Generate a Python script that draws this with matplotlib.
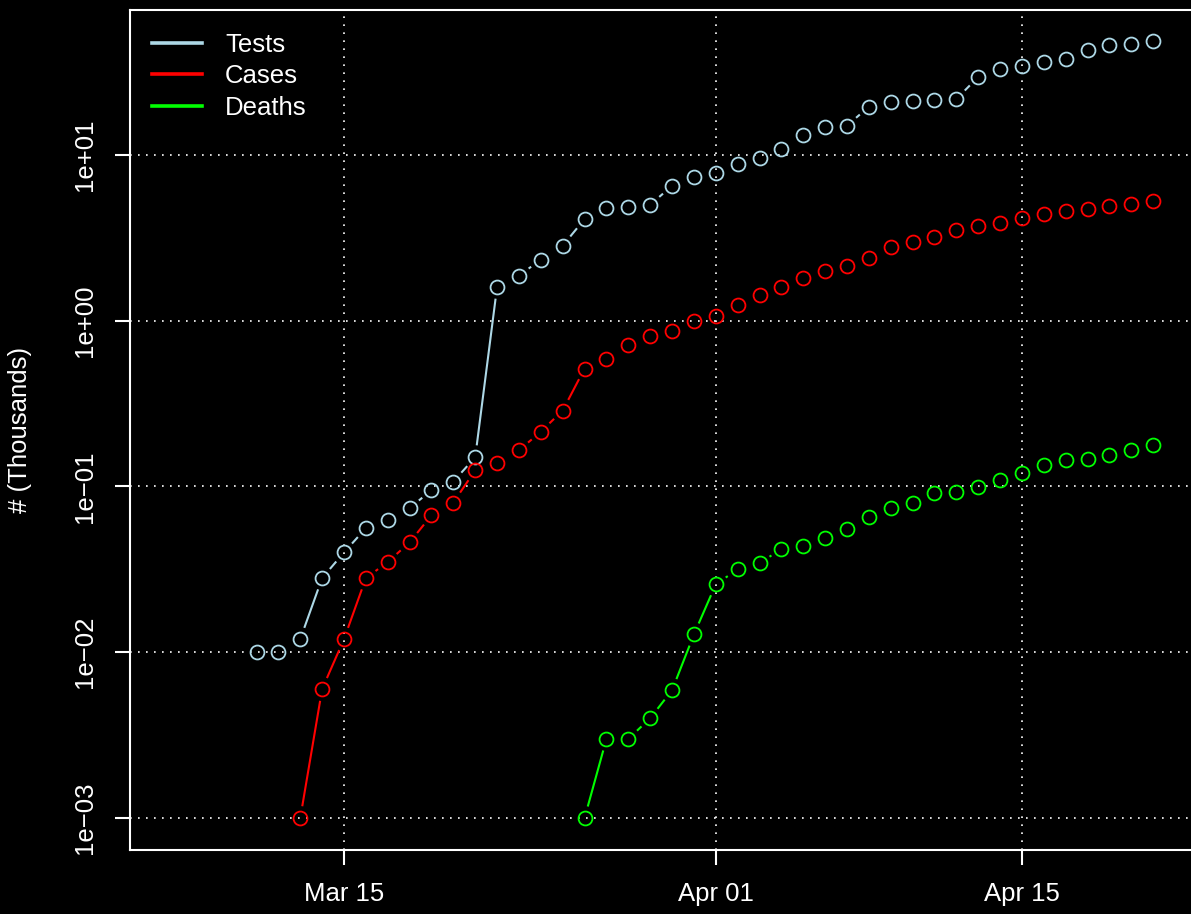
#!/usr/bin/env python3
"""
Tests / cases / deaths on a log scale, R-style type="b" plot on black
"""

import datetime as dt
import numpy as np
import matplotlib
matplotlib.use("Agg")
import matplotlib.pyplot as plt
import matplotlib.dates as mdates

# values in thousands, one per day
tests_start = dt.date(2020, 3, 11)
tests = [0.01, 0.01, 0.012, 0.028, 0.04, 0.056, 0.063, 0.074, 0.095, 0.107,
         0.15, 1.6, 1.87, 2.33, 2.83, 4.1, 4.8, 4.86, 5.0, 6.5, 7.3,
         7.8, 8.8, 9.6, 10.9, 13.2, 14.7, 15.0, 19.5, 20.9, 21.2, 21.4,
         21.7, 29.5, 33.0, 34.4, 36.3, 37.9, 42.9, 46.0, 46.3, 48.6]

cases_start = dt.date(2020, 3, 13)
cases = [0.001, 0.006, 0.012, 0.028, 0.035, 0.046, 0.067, 0.08, 0.125, 0.138,
         0.165, 0.214, 0.287, 0.514, 0.59, 0.71, 0.81, 0.87, 0.99,
         1.07, 1.25, 1.43, 1.6, 1.82, 2.0, 2.14, 2.4, 2.79, 2.99, 3.2,
         3.53, 3.73, 3.89, 4.17, 4.41, 4.6, 4.73, 4.93, 5.07, 5.28]

deaths_start = dt.date(2020, 3, 26)
deaths = [0.001, 0.003, 0.003, 0.004, 0.0059, 0.0128,
          0.0257, 0.0316, 0.0344, 0.042, 0.044, 0.049, 0.055, 0.065, 0.074,
          0.08, 0.091, 0.093, 0.099, 0.11, 0.121, 0.134, 0.144, 0.146,
          0.154, 0.167, 0.177]

series_names = ["Tests", "Cases", "Deaths"]
series_colors = ["#ADD8E6", "#FF0000", "#00FF00"]

tick_dates = [dt.date(2020, 3, 15), dt.date(2020, 4, 1), dt.date(2020, 4, 15)]
tick_labels = ["Mar 15", "Apr 01", "Apr 15"]
y_ticks = [1e-3, 1e-2, 1e-1, 1e0, 1e1]
y_labels = ["1e\u221203", "1e\u221202", "1e\u221201", "1e+00", "1e+01"]


def day_axis(start, n):
    return mdates.date2num([start + dt.timedelta(days=i) for i in range(n)])


def gapped_segments(ax, x, y, gap_px):
    """Segments between consecutive points, trimmed like R's type='b'"""
    pts = ax.transData.transform(np.column_stack([x, y]))
    inv = ax.transData.inverted()
    segs = []
    for a, b in zip(pts[:-1], pts[1:]):
        d = b - a
        L = np.hypot(*d)
        if L <= 2 * gap_px:
            continue
        u = d / L
        segs.append(inv.transform(np.array([a + u * gap_px, b - u * gap_px])))
    return segs


def main():
    plt.rcParams['font.family'] = ['Liberation Sans', 'DejaVu Sans']
    fs = 18.5

    W, H = 1191, 914
    fig = plt.figure(figsize=(W / 100, H / 100), dpi=100, facecolor="black")
    left, right, top, bottom = 130, 1196, 10, 850
    ax = fig.add_axes([left / W, 1 - bottom / H, (right - left) / W, (bottom - top) / H])
    ax.set_facecolor("black")
    ax.set_yscale("log")

    mar15 = mdates.date2num(dt.date(2020, 3, 15))
    px_per_day = 21.87
    ax.set_xlim(mar15 - (344 - left) / px_per_day, mar15 + (right - 344) / px_per_day)
    ymin = 10 ** (-3 - (bottom - 818) / 166.0)
    ymax = 10 ** (1 + (155 - top) / 166.0)
    ax.set_ylim(ymin, ymax)

    # dotted grid
    grid_style = dict(color="white", lw=1.2, ls=(0, (1, 3.8)), zorder=1)
    for d in tick_dates:
        ax.axvline(mdates.date2num(d), **grid_style)
    for v in y_ticks:
        ax.axhline(v, **grid_style)

    data = [(tests_start, tests), (cases_start, cases), (deaths_start, deaths)]
    for (start, vals), name, col in zip(data, series_names, series_colors):
        x = day_axis(start, len(vals))
        for seg in gapped_segments(ax, x, vals, 13):
            ax.plot(seg[:, 0], seg[:, 1], color=col, lw=1.5, zorder=2)
        ax.plot(x, vals, ls="none", marker="o", ms=10, mfc="none", mec=col,
                mew=1.3, zorder=3)
        ax.plot([], [], color=col, lw=2.6, label=name)

    ax.set_xticks(mdates.date2num(tick_dates))
    ax.set_xticklabels(tick_labels)
    ax.set_yticks(y_ticks)
    ax.set_yticklabels(y_labels, rotation=90, va="center")
    ax.yaxis.set_minor_locator(matplotlib.ticker.NullLocator())
    ax.tick_params(colors="white", labelcolor="white", labelsize=fs,
                   length=11, width=1.5)
    ax.tick_params(axis="x", pad=12)
    ax.tick_params(axis="y", pad=13)
    for s in ax.spines.values():
        s.set_color("white")
        s.set_linewidth(1.5)

    fig.text(20 / W, 1 - 430 / H, "# (Thousands)", rotation=90, color="white",
             fontsize=fs, ha="center", va="center")

    leg = ax.legend(loc="upper left", bbox_to_anchor=(22 / (right - left), 0.973),
                    frameon=False, fontsize=fs, handlelength=1.95,
                    handletextpad=0.9, labelspacing=0.3, borderpad=0,
                    borderaxespad=0)
    for t in leg.get_texts():
        t.set_color("white")

    fig.savefig("out.png", dpi=100, facecolor="black")


if __name__ == "__main__":
    main()
